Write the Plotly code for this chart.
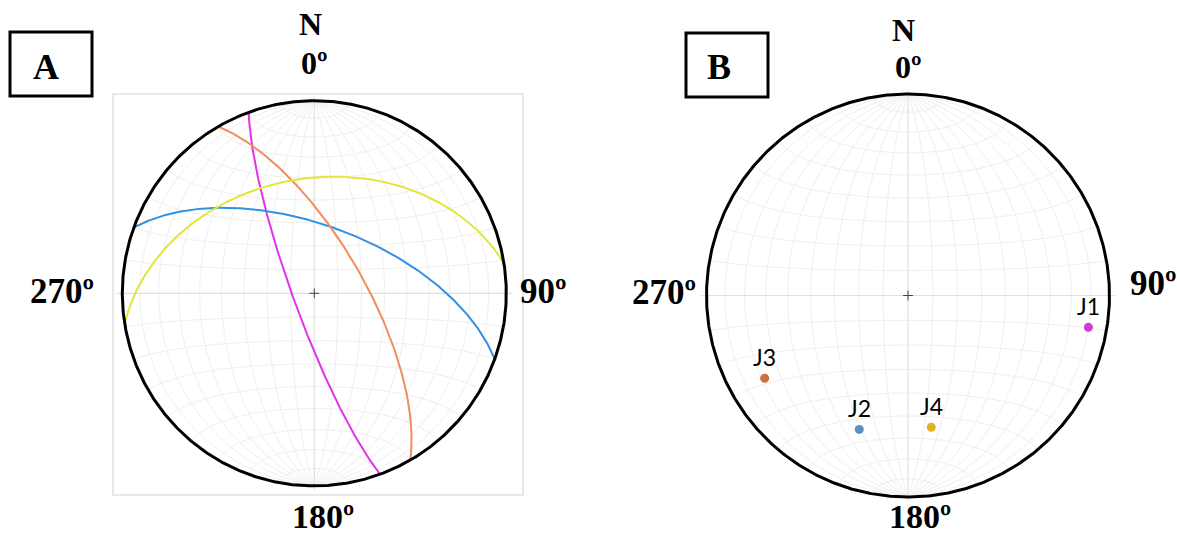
import numpy as np
import plotly.graph_objects as go

# ---------------- data ----------------
# Panel A: joint planes (dip direction / dip, degrees)
plane_names = ["J1", "J2", "J3", "J4"]
plane_dipdir = [250, 20, 60, 351]
plane_dip = [81, 61, 69, 40]

# Panel B: poles to the joint sets (trend / plunge, degrees)
pole_names = ["J1", "J2", "J3", "J4"]
pole_trend = [100, 200, 240, 170]
pole_plunge = [10, 30, 19, 34]

# compass labels
compass_labels = ["N", "0º", "90º", "180º", "270º"]
panel_labels = ["A", "B"]

# ---------------- styles ----------------
line_colors = ["#e233e8", "#3391e3", "#f28c5c", "#e2e63c"]
pole_colors = ["#d43ad2", "#5b8fc4", "#c8733c", "#e0b222"]
GRID = "#efefef"
W, H = 1177, 535


def proj(x, y, z):
    """Lambert equal-area (lower hemisphere), primitive radius 1."""
    s = 1.0 / np.sqrt(1.0 - z)
    return x * s, y * s


def great_circle(dipdir, dip, n=361):
    dd = np.radians(dipdir)
    dp = np.radians(dip)
    st = dd - np.pi / 2
    s = np.array([np.sin(st), np.cos(st), 0.0])
    d = np.array([np.sin(dd) * np.cos(dp), np.cos(dd) * np.cos(dp), -np.sin(dp)])
    t = np.linspace(0, np.pi, n)
    v = np.outer(np.cos(t), s) + np.outer(np.sin(t), d)
    return proj(v[:, 0], v[:, 1], np.minimum(v[:, 2], 0))


def pole_xy(trend, plunge):
    tr = np.radians(trend)
    pl = np.radians(plunge)
    x = np.cos(pl) * np.sin(tr)
    y = np.cos(pl) * np.cos(tr)
    z = -np.sin(pl)
    return proj(x, y, z)


def net_grid():
    xs, ys = [], []
    for dip in range(10, 90, 10):
        for dd in (90, 270):
            x, y = great_circle(dd, dip, 181)
            xs += list(x) + [None]
            ys += list(y) + [None]
    phi = np.linspace(np.pi, 2 * np.pi, 121)
    for a in range(10, 90, 10):
        ar = np.radians(a)
        for sgn in (1, -1):
            x = np.sin(ar) * np.cos(phi)
            z = np.minimum(np.sin(ar) * np.sin(phi), 0)
            y = np.full_like(x, sgn * np.cos(ar))
            px, py = proj(x, y, z)
            xs += list(px) + [None]
            ys += list(py) + [None]
    return xs, ys


fig = go.Figure()

gx, gy = net_grid()
th = np.linspace(0, 2 * np.pi, 721)

for k in ("", "2"):
    xa, ya = "x" + k, "y" + k
    fig.add_trace(go.Scatter(x=gx, y=gy, mode="lines", line=dict(color=GRID, width=1),
                             hoverinfo="skip", showlegend=False, xaxis=xa, yaxis=ya))
    fig.add_trace(go.Scatter(x=[-1.03, 1.03, None, 0, 0], y=[0, 0, None, -1.02, 1.02], mode="lines",
                             line=dict(color="#e0e0e0", width=1.2),
                             hoverinfo="skip", showlegend=False, xaxis=xa, yaxis=ya))

# Panel A great circles
for name, dd, dp, c in zip(plane_names, plane_dipdir, plane_dip, line_colors):
    x, y = great_circle(dd, dp)
    fig.add_trace(go.Scatter(x=x, y=y, mode="lines", line=dict(color=c, width=2),
                             name=name, showlegend=False, xaxis="x", yaxis="y"))

# Panel B poles
px, py = pole_xy(np.array(pole_trend), np.array(pole_plunge))
fig.add_trace(go.Scatter(x=px, y=py, mode="markers",
                         marker=dict(color=pole_colors, size=9),
                         showlegend=False, xaxis="x2", yaxis="y2"))

for k in ("", "2"):
    xa, ya = "x" + k, "y" + k
    fig.add_trace(go.Scatter(x=np.sin(th), y=np.cos(th), mode="lines",
                             line=dict(color="black", width=3),
                             hoverinfo="skip", showlegend=False, xaxis=xa, yaxis=ya))
    fig.add_trace(go.Scatter(x=[0], y=[0], mode="markers",
                             marker=dict(symbol="cross-thin", size=7, line=dict(color="#444", width=1)),
                             hoverinfo="skip", showlegend=False, xaxis=xa, yaxis=ya))


def pxx(v):
    return v / W


def pxy(v):
    return 1 - v / H


ann = []
for n, x, y in zip(pole_names, px, py):
    ann.append(dict(x=x, y=y, xref="x2", yref="y2", text=n, showarrow=False, yshift=21,
                    font=dict(family="Lato, Open Sans, sans-serif", size=23, color="black")))

serif = "Liberation Serif, Times New Roman, serif"
label_sizes = [32, 32, 35, 34, 35]
label_pos = {
    "A": [(310, 24), (314, 63), (543, 291), (323, 516), (62, 291)],
    "B": [(903, 30), (908, 67), (1153, 283), (920, 516), (664, 292)],
}
for p in panel_labels:
    for txt, (lx, ly), fs in zip(compass_labels, label_pos[p], label_sizes):
        ann.append(dict(x=pxx(lx), y=pxy(ly), xref="paper", yref="paper", text="<b>%s</b>" % txt,
                        showarrow=False, xanchor="center", yanchor="middle",
                        font=dict(family=serif, size=fs, color="black")))

box_pos = {"A": (10, 32, 92, 96, 46, 67), "B": (686, 33, 768, 97, 719, 67)}
shapes = []
for p in panel_labels:
    x0, y0, x1, y1, cx, cy = box_pos[p]
    shapes.append(dict(type="rect", xref="paper", yref="paper", x0=pxx(x0), x1=pxx(x1),
                       y0=pxy(y1), y1=pxy(y0), line=dict(color="black", width=3)))
    ann.append(dict(x=pxx(cx), y=pxy(cy), xref="paper", yref="paper", text="<b>%s</b>" % p,
                    showarrow=False, xanchor="center", yanchor="middle",
                    font=dict(family=serif, size=36, color="black")))

# axis geometry (pixels)
cxA, cyA, rxA, ryA = 314.3, 293.3, 192.0, 192.6
fxA0, fxA1, fyA0, fyA1 = 114, 522, 95, 494
cxB, cyB, rB = 908.0, 295.5, 201.5
fxB0, fxB1, fyB0, fyB1 = 700, 1116, 88, 503

common = dict(showgrid=False, zeroline=False, showticklabels=False, ticks="")
fig.update_layout(
    width=W, height=H, margin=dict(l=0, r=0, t=0, b=0),
    paper_bgcolor="white", plot_bgcolor="white",
    xaxis=dict(domain=[pxx(fxA0), pxx(fxA1)], range=[(fxA0 - cxA) / rxA, (fxA1 - cxA) / rxA],
               showline=True, mirror=True, linecolor="#e8e8e8", linewidth=2, **common),
    yaxis=dict(domain=[pxy(fyA1), pxy(fyA0)], range=[-(fyA1 - cyA) / ryA, (cyA - fyA0) / ryA],
               showline=True, mirror=True, linecolor="#e8e8e8", linewidth=2, **common),
    xaxis2=dict(domain=[pxx(fxB0), pxx(fxB1)], range=[(fxB0 - cxB) / rB, (fxB1 - cxB) / rB],
                showline=False, **common),
    yaxis2=dict(domain=[pxy(fyB1), pxy(fyB0)], range=[-(fyB1 - cyB) / rB, (cyB - fyB0) / rB],
                showline=False, **common),
    annotations=ann, shapes=shapes, showlegend=False,
)

fig.write_html("out.html")
